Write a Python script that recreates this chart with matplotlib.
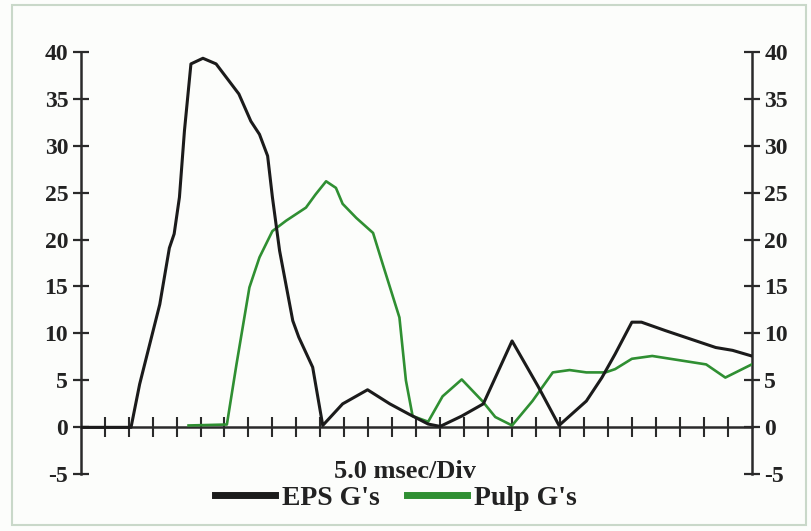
import matplotlib
matplotlib.use("Agg")
import matplotlib.pyplot as plt
from matplotlib.patches import Rectangle

# ---- data (x in divisions of 5.0 msec) ----
eps_x = [0, 2.1, 2.46, 3.3, 3.7, 3.9, 4.12, 4.33, 4.6, 5.1, 5.65, 6.6, 7.1, 7.46,
         7.8, 8.0, 8.3, 8.85, 9.1, 9.68, 10.1, 10.93, 11.97, 12.9, 13.7, 14.5,
         15.0, 15.9, 16.8, 18.0, 19.1, 19.96, 21.1, 21.75, 22.3, 23.0, 23.4,
         24.4, 26.5, 27.2, 28.0]
eps_y = [0, 0, 4.6, 13.1, 19.1, 20.6, 24.5, 31.6, 38.7, 39.3, 38.7, 35.5, 32.6,
         31.2, 28.9, 24.5, 18.8, 11.35, 9.6, 6.4, 0.2, 2.5, 4.0, 2.5, 1.4, 0.35,
         0.1, 1.2, 2.5, 9.2, 4.3, 0.2, 2.8, 5.3, 7.8, 11.2, 11.2, 10.3, 8.5,
         8.2, 7.6]
pulp_x = [4.5, 6.1, 6.5, 7.04, 7.46, 8.0, 8.57, 9.4, 9.8, 10.24, 10.65, 10.93,
          11.5, 12.2, 12.6, 13.3, 13.57, 13.85, 14.5, 15.1, 15.9, 16.76, 17.3,
          18.0, 18.85, 19.7, 20.4, 21.1, 21.9, 22.3, 23.0, 23.85, 25.1, 26.1,
          26.9, 28.0]
pulp_y = [0.2, 0.3, 6.7, 14.9, 18.1, 20.9, 22.0, 23.4, 24.8, 26.2, 25.5, 23.8,
          22.3, 20.7, 17.4, 11.7, 5.0, 1.2, 0.6, 3.3, 5.1, 2.8, 1.1, 0.2, 2.8,
          5.85, 6.1, 5.85, 5.85, 6.2, 7.3, 7.6, 7.1, 6.7, 5.3, 6.7]
y_ticks = [-5, 0, 5, 10, 15, 20, 25, 30, 35, 40]
x_ticks = list(range(1, 28))
series_names = ["EPS G's", "Pulp G's"]
x_label = "5.0 msec/Div"

BLACK = "#1b1b1b"
GREEN = "#2f8f32"
FONT = "Liberation Serif"

W, H = 811, 531
fig = plt.figure(figsize=(W / 100, H / 100), dpi=100)
fig.patch.set_facecolor("#fcfdfb")

# outer light frame
fig.patches.append(Rectangle((11.7 / W, 1 - 525 / H), (806 - 11.7) / W, (525 - 5) / H,
                             transform=fig.transFigure, fill=False,
                             edgecolor="#c9d8c9", linewidth=1.5))

left, right = 80.7 / W, 751.7 / W
bottom, top = 1 - 474.3 / H, 1 - 51.7 / H
ax = fig.add_axes([left, bottom, right - left, top - bottom])
ax.set_facecolor("none")

l1, = ax.plot(eps_x, eps_y, color=BLACK, lw=2.2, solid_joinstyle="round", zorder=4)
l2, = ax.plot(pulp_x, pulp_y, color=GREEN, lw=1.9, solid_joinstyle="round", zorder=3)

ax.set_xlim(0, 28)
ax.set_ylim(-5, 40)

ax.spines["top"].set_visible(False)
ax.spines["bottom"].set_position(("data", 0))
for s in ["left", "right", "bottom"]:
    ax.spines[s].set_linewidth(1.8)
    ax.spines[s].set_color("#2a2a2a")

ax.set_yticks(y_ticks)
ax.set_yticklabels([str(v) for v in y_ticks])
ax.tick_params(axis="y", which="both", left=True, right=True, labelleft=True,
               labelright=True, direction="inout", length=12, width=1.6,
               color="#2a2a2a", pad=3, labelsize=17)
ax.set_xticks(x_ticks)
ax.tick_params(axis="x", which="both", direction="inout", length=14, width=1.5,
               color="#2a2a2a", labelbottom=False)
for lab in ax.get_yticklabels():
    lab.set_fontfamily(FONT)
    lab.set_fontweight("bold")
    lab.set_color("#222222")

fig.text(405 / W, 1 - 471 / H, x_label, ha="center", va="center",
         fontfamily=FONT, fontweight="bold", fontsize=19, color="#222222")

leg = fig.legend([l1, l2], series_names, loc="center", ncol=2,
                 bbox_to_anchor=(396 / W, 1 - 498 / H), frameon=False,
                 prop={"family": FONT, "weight": "bold", "size": 20},
                 handlelength=2.15, handletextpad=0.25, columnspacing=1.0,
                 borderpad=0, borderaxespad=0)
for h in leg.legend_handles:
    h.set_linewidth(5)
for t in leg.get_texts():
    t.set_color("#222222")

fig.savefig("out.png", dpi=100, facecolor=fig.get_facecolor())
